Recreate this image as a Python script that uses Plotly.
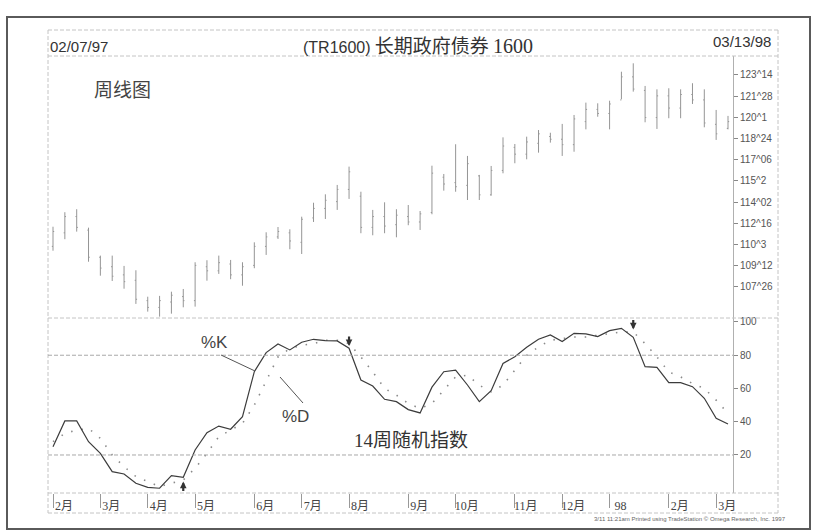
import plotly.graph_objects as go

# ---------------- data ----------------
dates = [
    "1997-02-07", "1997-02-14", "1997-02-21", "1997-02-28",
    "1997-03-07", "1997-03-14", "1997-03-21", "1997-03-28",
    "1997-04-04", "1997-04-11", "1997-04-18", "1997-04-25",
    "1997-05-02", "1997-05-09", "1997-05-16", "1997-05-23", "1997-05-30",
    "1997-06-06", "1997-06-13", "1997-06-20", "1997-06-27",
    "1997-07-04", "1997-07-11", "1997-07-18", "1997-07-25",
    "1997-08-01", "1997-08-08", "1997-08-15", "1997-08-22", "1997-08-29",
    "1997-09-05", "1997-09-12", "1997-09-19", "1997-09-26",
    "1997-10-03", "1997-10-10", "1997-10-17", "1997-10-24", "1997-10-31",
    "1997-11-07", "1997-11-14", "1997-11-21", "1997-11-28",
    "1997-12-05", "1997-12-12", "1997-12-19", "1997-12-26",
    "1998-01-02", "1998-01-09", "1998-01-16", "1998-01-23", "1998-01-30",
    "1998-02-06", "1998-02-13", "1998-02-20", "1998-02-27",
    "1998-03-06", "1998-03-13",
]

price_high = [112.25, 113.32, 113.54, 112.18, 110.12, 110.12, 109.36, 109.04,
              107.09, 107.15, 107.46, 107.66, 109.63, 109.78, 110.12, 109.80,
              109.63, 111.10, 111.84, 112.23, 112.06, 112.99, 114.02, 114.64,
              115.33, 116.68, 114.83, 113.49, 114.05, 113.54, 113.85, 113.41,
              116.75, 116.14, 118.33, 117.47, 116.07, 116.73, 118.84, 118.35,
              118.89, 119.38, 119.18, 119.83, 120.49, 121.40, 121.35, 121.54,
              123.68, 124.30, 122.63, 122.38, 122.46, 122.38, 122.83, 122.38,
              120.86, 120.42]
price_low = [110.48, 111.33, 111.89, 109.67, 108.64, 108.25, 107.68, 106.56,
             105.99, 105.62, 105.84, 106.31, 106.36, 108.27, 108.77, 108.38,
             107.90, 109.19, 110.17, 111.35, 110.59, 110.24, 112.60, 112.82,
             113.49, 114.30, 111.77, 111.62, 111.77, 111.47, 112.36, 112.01,
             113.17, 114.91, 114.83, 114.22, 114.22, 114.54, 116.19, 116.93,
             117.22, 117.71, 118.45, 117.47, 117.78, 119.43, 120.36, 119.43,
             121.65, 122.21, 119.95, 119.46, 120.25, 120.25, 121.30, 119.58,
             118.65, 119.43]
price_open = [110.8, 111.8, 113.0, 112.0, 110.0, 109.3, 108.7, 108.3,
              106.8, 106.3, 106.7, 107.1, 106.8, 109.3, 109.0, 109.5,
              108.7, 109.4, 110.8, 111.5, 111.8, 111.1, 112.9, 113.6,
              114.1, 115.0, 114.5, 112.2, 113.0, 112.4, 113.0, 112.6,
              113.3, 115.9, 115.5, 115.3, 116.0, 114.6, 116.4, 118.1,
              117.6, 118.4, 118.9, 118.7, 118.3, 120.0, 120.9, 120.6,
              121.6, 123.3, 122.3, 120.3, 121.9, 121.0, 122.0, 121.6,
              119.8, 119.5]
price_close = [111.9, 113.0, 112.2, 110.0, 109.2, 108.6, 108.2, 106.9,
               106.3, 106.8, 107.2, 106.8, 109.4, 109.0, 109.6, 108.7,
               109.3, 110.8, 111.5, 111.9, 111.2, 112.8, 113.6, 114.2,
               115.0, 116.3, 112.2, 113.0, 112.3, 113.1, 112.6, 113.2,
               116.2, 115.4, 115.2, 116.9, 114.6, 116.4, 118.2, 117.6,
               118.5, 119.1, 118.7, 118.3, 120.2, 120.9, 120.6, 121.3,
               123.3, 122.4, 120.3, 121.9, 121.0, 122.0, 121.6, 119.9,
               119.1, 120.0]

stoch_k = [25.0, 40.5, 40.5, 28.0, 21.0, 10.0, 8.6, 3.0, 0.5, 0.0,
           7.6, 6.6, 23.0, 33.4, 37.4, 35.5, 43.1, 70.1, 81.6, 86.8,
           83.2, 87.8, 89.6, 88.8, 88.6, 84.2, 65.1, 61.5, 53.5, 52.1,
           47.3, 45.3, 60.8, 70.1, 71.1, 62.1, 52.1, 58.7, 75.1, 79.1,
           84.8, 89.6, 92.2, 88.2, 93.2, 92.8, 91.2, 94.8, 96.2, 90.8,
           73.1, 72.7, 63.5, 63.5, 61.1, 54.1, 42.1, 38.6]
stoch_d = [28, 33, 35, 36, 30, 20, 13, 7, 4, 1,
           3, 5, 12, 21, 31, 35, 39, 50, 65, 79,
           84, 86, 87, 89, 89, 87, 79, 70, 60, 56,
           51, 48, 51, 59, 67, 68, 62, 58, 62, 71,
           80, 85, 89, 90, 91, 91, 92, 93, 94, 94,
           87, 79, 70, 67, 63, 60, 53, 45]

# buy/sell signal arrows: date, tip level, direction
signal_dates = ["1997-04-25", "1997-08-01", "1998-01-16"]
signal_levels = [4.0, 85.5, 95.5]
signal_dirs = ["up", "down", "down"]

month_tick_dates = ["1997-02-07", "1997-03-07", "1997-04-04", "1997-05-02",
                    "1997-06-06", "1997-07-04", "1997-08-01", "1997-09-05",
                    "1997-10-03", "1997-11-07", "1997-12-05", "1998-01-02",
                    "1998-02-06", "1998-03-06"]
month_tick_labels = ["2月", "3月", "4月", "5月", "6月", "7月", "8月", "9月",
                     "10月", "11月", "12月", "98", "2月", "3月"]

price_tick_vals = [123.4375, 121.875, 120.3125, 118.75, 117.1875, 115.625,
                   114.0625, 112.5, 110.9375, 109.375, 107.8125]
price_tick_text = ["123^14", "121^28", "120^1", "118^24", "117^06", "115^2",
                   "114^02", "112^16", "110^3", "109^12", "107^26"]
stoch_tick_vals = [20, 40, 60, 80, 100]
stoch_tick_text = ["20", "40", "60", "80", "100"]
stoch_levels = [80, 20]

# ---------------- layout geometry (pixels) ----------------
W_FIG, H_FIG = 818, 532
PL, PR, PT, PB = 48, 733, 56, 493
SEP = 318


def px(x):
    return (x - PL) / (PR - PL)


def py(y):
    return (PB - y) / (PB - PT)


split = py(SEP)
SANS = "Liberation Sans, Arial, Noto Sans CJK SC"
CJK = "Noto Sans CJK SC"

fig = go.Figure()

fig.add_trace(go.Ohlc(
    x=dates, open=price_open, high=price_high, low=price_low, close=price_close,
    xaxis="x", yaxis="y", tickwidth=0.1,
    increasing=dict(line=dict(color="#959595", width=1)),
    decreasing=dict(line=dict(color="#959595", width=1)),
    showlegend=False, hoverinfo="skip",
))

fig.add_trace(go.Scatter(
    x=dates, y=stoch_d, xaxis="x2", yaxis="y2", mode="lines",
    line=dict(color="#8a8a8a", width=1.6, dash="1.5px,9px"),
    showlegend=False, hoverinfo="skip",
))
fig.add_trace(go.Scatter(
    x=dates, y=stoch_k, xaxis="x2", yaxis="y2", mode="lines",
    line=dict(color="#3c3c3c", width=1.2),
    showlegend=False, hoverinfo="skip",
))

x_range = ["1997-02-04 01:00", "1998-03-15 23:00"]

dash_frame = dict(color="#c4c4c4", width=1, dash="4px,2px")
shapes = []
for (x0, y0, x1, y1) in [(48, 30, 778, 30), (48, PT, 778, PT), (48, SEP, 778, SEP),
                         (48, PB, 778, PB), (48, 513, 778, 513),
                         (48, 30, 48, 513), (778, 30, 778, 513)]:
    shapes.append(dict(type="line", xref="paper", yref="paper",
                       x0=px(x0), y0=py(y0), x1=px(x1), y1=py(y1), line=dash_frame))
# outer scan frame
shapes.append(dict(type="rect", xref="paper", yref="paper",
                   x0=px(7), y0=py(17), x1=px(810), y1=py(529),
                   line=dict(color="#5a5a5a", width=2)))
# stochastic reference lines
for lv in stoch_levels:
    shapes.append(dict(type="line", xref="paper", yref="y2", x0=0, x1=1, y0=lv, y1=lv,
                       line=dict(color="#a8a8a8", width=1, dash="4px,2px")))
# pointer lines for %K and %D
for (x0, y0, x1, y1) in [(221, 355, 255, 371), (280, 377, 303, 403)]:
    shapes.append(dict(type="line", xref="paper", yref="paper",
                       x0=px(x0), y0=py(y0), x1=px(x1), y1=py(y1),
                       line=dict(color="#555555", width=1)))

title_html = ("<span style='font-size:16px'>(TR1600)</span> "
              "<span style='font-family:Noto Sans CJK SC;font-size:19px'>长期政府债券</span>"
              " <span style='font-family:Liberation Serif;font-size:20px'>1600</span>")

annotations = [
    dict(text="02/07/97", x=px(48), y=py(47), xanchor="left", yanchor="middle",
         font=dict(size=15, color="#333333", family=SANS)),
    dict(text=title_html, x=px(418), y=py(44), xanchor="center", yanchor="middle",
         font=dict(size=15, color="#333333", family=SANS)),
    dict(text="03/13/98", x=px(773), y=py(41), xanchor="right", yanchor="middle",
         font=dict(size=15, color="#333333", family=SANS)),
    dict(text="周线图", x=px(92), y=py(88), xanchor="left", yanchor="middle",
         font=dict(size=19, color="#444444", family=CJK)),
    dict(text="%K", x=px(214), y=py(342), xanchor="center", yanchor="middle",
         font=dict(size=17, color="#444444", family=SANS)),
    dict(text="%D", x=px(295), y=py(416), xanchor="center", yanchor="middle",
         font=dict(size=17, color="#444444", family=SANS)),
    dict(text="<span style='font-family:Liberation Serif'>14</span>周随机指数",
         x=px(352), y=py(438), xanchor="left", yanchor="middle",
         font=dict(size=19, color="#333333", family=CJK)),
    dict(text="3/11 11:21am Printed using TradeStation © Omega Research, Inc. 1997",
         x=px(788), y=py(519), xanchor="right", yanchor="middle",
         font=dict(size=6, color="#666666", family=SANS)),
]
for a in annotations:
    a.update(xref="paper", yref="paper", showarrow=False)

# signal arrows (head + short stem) anchored to the stochastic axes
for d, lv, direction in zip(signal_dates, signal_levels, signal_dirs):
    annotations.append(dict(
        x=d, y=lv, xref="x2", yref="y2", text="", showarrow=True,
        ax=0, ay=(11 if direction == "up" else -11),
        arrowhead=2, arrowsize=0.6, arrowwidth=2.2, arrowcolor="#333333",
        standoff=0, startstandoff=0,
    ))

fig.update_layout(
    width=W_FIG, height=H_FIG,
    margin=dict(l=PL, r=W_FIG - PR, t=PT, b=H_FIG - PB),
    paper_bgcolor="white", plot_bgcolor="white",
    font=dict(family=SANS, color="#444444"),
    shapes=shapes, annotations=annotations,
    xaxis=dict(domain=[0, 1], anchor="y", type="date", range=x_range,
               showticklabels=False, showgrid=False, zeroline=False, showline=False,
               ticks="", rangeslider=dict(visible=False)),
    yaxis=dict(domain=[split, 1], anchor="x", side="right", range=[105.52, 124.838],
               tickvals=price_tick_vals, ticktext=price_tick_text,
               ticks="outside", ticklen=4, tickcolor="#888888",
               showgrid=False, zeroline=False, showline=True, linecolor="#b0b0b0",
               tickfont=dict(size=10, color="#555555", family=SANS)),
    xaxis2=dict(domain=[0, 1], anchor="y2", type="date", range=x_range, matches="x",
                tickvals=month_tick_dates, ticktext=month_tick_labels,
                ticks="outside", ticklen=14, tickcolor="#999999",
                ticklabelshift=11, ticklabelstandoff=-12,
                showgrid=False, zeroline=False, showline=False,
                tickfont=dict(size=12, color="#444444",
                              family="Liberation Serif, Noto Sans CJK SC")),
    yaxis2=dict(domain=[0, split], anchor="x2", side="right", range=[-2.86, 102.4],
                tickvals=stoch_tick_vals, ticktext=stoch_tick_text,
                ticks="outside", ticklen=4, tickcolor="#888888",
                showgrid=False, zeroline=False, showline=True, linecolor="#b0b0b0",
                tickfont=dict(size=10, color="#555555", family=SANS)),
)

fig.write_html("out.html", config={"displayModeBar": False},
               post_script="document.body.style.margin='0';document.body.style.padding='0';")
